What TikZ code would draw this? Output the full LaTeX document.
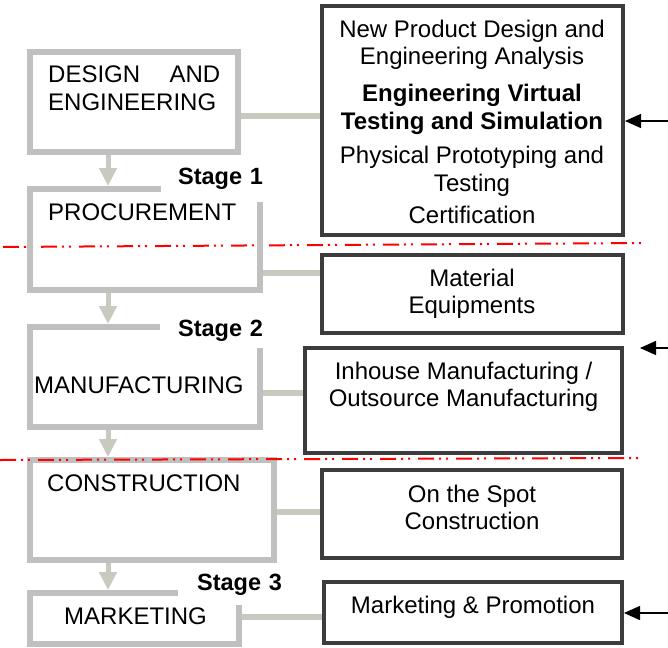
\documentclass[tikz,border=0pt]{standalone}
\usepackage{fontspec}
\setmainfont{Liberation Sans}
\usetikzlibrary{arrows.meta}

\begin{document}
\begin{tikzpicture}[x=1pt,y=-1pt]
  % Colors
  \definecolor{stagegray}{HTML}{C0C0C0}
  \definecolor{linkgray}{HTML}{C8CAC0}
  \definecolor{taskdark}{HTML}{3C3C3C}
  \definecolor{cutred}{HTML}{FF0000}

  % Styles
  \tikzstyle{stage box}=[draw=stagegray,line width=6pt,inner sep=0pt]
  \tikzstyle{task box}=[draw=taskdark,line width=4pt,inner sep=0pt]
  \tikzstyle{box text}=[inner sep=0pt,font=\fontsize{24}{27.5}\selectfont]
  \tikzstyle{stage label}=[fill=white,inner sep=3pt,align=right,
    font=\fontsize{23.5}{27.5}\selectfont\bfseries]
  \tikzstyle{link}=[linkgray,line width=6pt]
  \tikzstyle{flow}=[linkgray,line width=5pt,-{Triangle[length=18pt,width=17pt]}]
  \tikzstyle{input}=[black,line width=1.5pt,-{Triangle[length=16pt,width=14pt]}]
  \tikzstyle{cut line}=[cutred,line width=2pt,
    dash pattern=on 16pt off 5pt on 2pt off 5pt on 2pt off 8pt]

  \useasboundingbox (0,0) rectangle (668,647);

  % First cut line, under the stage boxes
  \coordinate (cutoneleft) at (3,247);
  \coordinate (cutoneright) at (645,243);
  \draw[cut line] (cutoneleft) -- (cutoneright);

  % Stages
  \node[stage box,minimum width=208pt,minimum height=100pt] (design) at (134,102) {};
  \node[stage box,minimum width=230pt,minimum height=101pt] (procure) at (145,239.5) {};
  \node[stage box,minimum width=230pt,minimum height=100pt] (manufact) at (145,377) {};
  \node[stage box,minimum width=244pt,minimum height=100pt] (construct) at (152,510) {};
  \node[stage box,minimum width=209pt,minimum height=51pt] (market) at (134.5,618.5) {};

  \node[box text,anchor=north west,align=left] (designtext) at (48,65.8)
    {\makebox[172pt][s]{DESIGN AND}\\ENGINEERING};
  \node[box text,anchor=north west] (procuretext) at (48,203.8) {PROCUREMENT};
  \node[box text,anchor=north west] (manufacttext) at (34,376.8) {MANUFACTURING};
  \node[box text,anchor=north west] (constructtext) at (47,474.3) {CONSTRUCTION};
  \node[box text,anchor=north west] (markettext) at (64,607.8) {MARKETING};

  % Activities
  \node[task box,minimum width=301pt,minimum height=229pt] (develop) at (472.5,120.5) {};
  \node[task box,minimum width=301pt,minimum height=78pt] (material) at (472.5,294) {};
  \node[task box,minimum width=317pt,minimum height=105pt] (inhouse) at (463.5,400.5) {};
  \node[task box,minimum width=300pt,minimum height=88pt] (spot) at (472,514) {};
  \node[task box,minimum width=298pt,minimum height=61pt] (promo) at (473,612.5) {};

  \node[box text,anchor=north,align=center] (developtext) at (472,19.8)
    {
      New Product Design and\\Engineering Analysis\\[9.5pt]
      \textbf{Engineering Virtual}\\\textbf{Testing and Simulation}\\[7pt]
      Physical Prototyping and\\Testing\\[5pt]
      Certification
    };
  \node[box text,anchor=north,align=center] (materialtext) at (472,268.8)
    {Material\\Equipments};
  \node[box text,anchor=north,align=center] (inhousetext) at (463.5,361.8)
    {Inhouse Manufacturing /\\Outsource Manufacturing};
  \node[box text,anchor=north,align=center] (spottext) at (472,484.8)
    {On the Spot\\Construction};
  \node[box text,anchor=north] (promotext) at (473,595.8) {Marketing \& Promotion};

  % Links and flow
  \draw[link] (design.east |- 0,116) -- (develop.west |- 0,116);
  \draw[link] (procure.east |- 0,273) -- (material.west |- 0,273);
  \draw[link] (manufact.east |- 0,393) -- (inhouse.west |- 0,393);
  \draw[link] (construct.east |- 0,512) -- (spot.west |- 0,512);
  \draw[link] (market.east |- 0,617) -- (promo.west |- 0,617);

  \foreach \from/\to in {design/procure,procure/manufact,manufact/construct,construct/market}
    \draw[flow] (\from.south -| 108,0) -- (\to.north -| 108,0);

  % Stage labels
  \node[stage label,text width=99pt,minimum height=46pt] (stageone) at (213.5,179) {Stage 1};
  \node[stage label,text width=100pt,minimum height=34pt] (stagetwo) at (213,331) {Stage 2};
  \node[stage label,text width=101pt,minimum height=40pt] (stagethree) at (231.5,585) {Stage 3};

  % Inputs
  \coordinate (inputone) at (668,121);
  \coordinate (inputtwo) at (668,348);
  \coordinate (tiptwo) at (640,348);
  \coordinate (inputthree) at (668,613);
  \draw[input] (inputone) -- (develop.east |- inputone);
  \draw[input] (inputtwo) -- (tiptwo);
  \draw[input] (inputthree) -- (promo.east |- inputthree);

  % Second cut line
  \coordinate (cuttwoleft) at (0,460);
  \coordinate (cuttworight) at (641,458);
  \draw[cut line] (cuttwoleft) -- (cuttworight);
\end{tikzpicture}
\end{document}
